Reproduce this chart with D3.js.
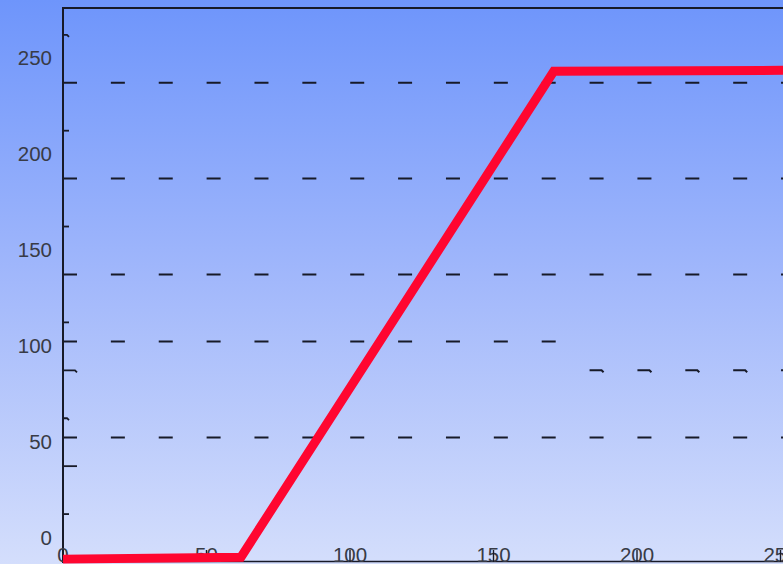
<!DOCTYPE html>
<html>
<head>
<meta charset="utf-8">
<script src="https://cdn.jsdelivr.net/npm/d3@7"></script>
<style>
  html, body { margin: 0; padding: 0; overflow: hidden; }
  svg { display: block; }
</style>
</head>
<body>
<svg id="chart" width="783" height="564"></svg>
<script>
// Ramp profile: flat, linear rise, flat plateau
const rampX = [0, 62, 171, 252];
const rampY = [1.5, 2.5, 256, 256.5];

// Axis labels
const xLabelValues = [0, 50, 100, 150, 200, 250];
const yLabelValues = [0, 50, 100, 150, 200, 250];

// Left-axis tick marks
const shortTickValues = [25, 75, 125, 175, 225, 275];
const longTickValues = [50, 100];
const hookedTickValues = [275, 100, 75];

// Dashed reference rows (value, start, end in x units)
const gridValues = [250, 200, 150, 115, 65];
const gridFrom   = [0, 0, 0, 0, 0];
const gridTo     = [252, 252, 252, 172, 252];

// Hooked dashed row
const hookRowValue = 100;
const hookRowFrom = 183;
const hookRowTo = 252;

const W = 783, H = 564;
const svg = d3.select("#chart");

const x = d3.scaleLinear().domain([0, 250]).range([63, 780.5]);
const y = d3.scaleLinear().domain([0, 289]).range([562, 8]);

// Background gradient
const defs = svg.append("defs");
const grad = defs.append("linearGradient")
  .attr("id", "bg").attr("x1", 0).attr("y1", 0).attr("x2", 0).attr("y2", 1);
grad.append("stop").attr("offset", "0%").attr("stop-color", "#6e95fb");
grad.append("stop").attr("offset", "50%").attr("stop-color", "#a2b8fb");
grad.append("stop").attr("offset", "100%").attr("stop-color", "#d4defc");
svg.append("rect").attr("width", W).attr("height", H).attr("fill", "url(#bg)");

const ink = "#171a28";
const dash = 14, period = 47.87;

// Dashed rows
const rows = svg.append("g");
gridValues.forEach((v, i) => {
  rows.append("line")
    .attr("x1", x(gridFrom[i])).attr("x2", x(gridTo[i]))
    .attr("y1", y(v)).attr("y2", y(v))
    .attr("stroke", ink).attr("stroke-width", 2)
    .attr("stroke-dasharray", `${dash} ${period - dash}`);
});

// Hooked dashed row, kept in phase with the other rows
const k0 = Math.ceil((x(hookRowFrom) - x(0)) / period - 0.05);
const k1 = Math.floor((x(hookRowTo) - x(0)) / period);
rows.selectAll("path.hook")
  .data(d3.range(k0, k1 + 1))
  .join("path")
  .attr("class", "hook")
  .attr("d", k => {
    const x0 = x(0) + k * period, yy = y(hookRowValue);
    return `M${x0},${yy}h${dash - 2}l2,2`;
  })
  .attr("fill", "none").attr("stroke", ink).attr("stroke-width", 2);

// Left axis ticks
const ticks = svg.append("g");
shortTickValues.concat(longTickValues).forEach(v => {
  const len = longTickValues.includes(v) ? 14 : 6;
  const hooked = hookedTickValues.includes(v);
  const x0 = x(0), yy = y(v);
  ticks.append("path")
    .attr("d", hooked ? `M${x0},${yy}h${len - 2}l2,2` : `M${x0},${yy}h${len}`)
    .attr("fill", "none").attr("stroke", ink).attr("stroke-width", 1.8);
});

// Axis frame
svg.append("line").attr("x1", x(0)).attr("x2", W).attr("y1", 8).attr("y2", 8)
  .attr("stroke", ink).attr("stroke-width", 2);
svg.append("line").attr("x1", x(0)).attr("x2", x(0)).attr("y1", 7).attr("y2", 563)
  .attr("stroke", ink).attr("stroke-width", 2);
svg.append("line").attr("x1", x(0)).attr("x2", W).attr("y1", 561.5).attr("y2", 561.5)
  .attr("stroke", ink).attr("stroke-width", 1.5);

// Y labels
svg.append("g").selectAll("text")
  .data(yLabelValues)
  .join("text")
  .attr("x", 52)
  .attr("y", d => y(d) - 17.5)
  .attr("text-anchor", "end")
  .attr("font-family", "'Liberation Sans', Arial, sans-serif")
  .attr("font-size", 20.5)
  .attr("fill", "#383b46")
  .text(d => d);

// X labels and ticks
const xl = svg.append("g");
xl.selectAll("text")
  .data(xLabelValues)
  .join("text")
  .attr("x", d => x(d))
  .attr("y", 562)
  .attr("text-anchor", "middle")
  .attr("font-family", "'Liberation Sans', Arial, sans-serif")
  .attr("font-size", 20.5)
  .attr("fill", "#383b46")
  .text(d => d);
xl.selectAll("line")
  .data(xLabelValues.slice(1))
  .join("line")
  .attr("x1", d => x(d)).attr("x2", d => x(d))
  .attr("y1", 550).attr("y2", 562)
  .attr("stroke", ink).attr("stroke-width", 1.4);

// Ramp line
const line = d3.line().x(d => x(d[0])).y(d => y(d[1]));
svg.append("path")
  .datum(d3.zip(rampX, rampY))
  .attr("d", line)
  .attr("fill", "none")
  .attr("stroke", "#ff0630")
  .attr("stroke-width", 9)
  .attr("stroke-linejoin", "miter");
</script>
</body>
</html>
